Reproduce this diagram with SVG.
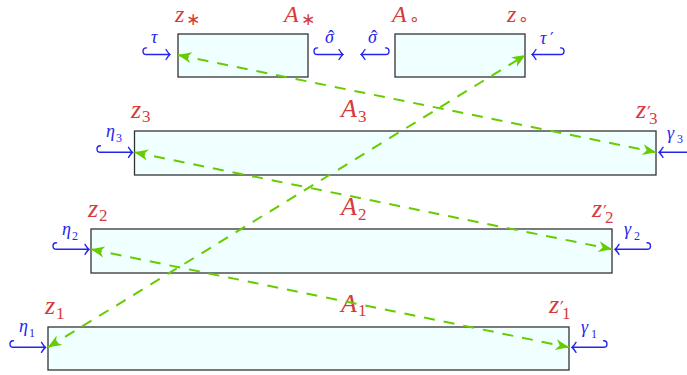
<svg xmlns="http://www.w3.org/2000/svg" width="687" height="375" viewBox="0 0 687 375">
<defs>
<style>
.box{fill:#f0ffff;stroke:#333;stroke-width:1.3}
.rl{fill:#d63a3a;font-family:"Liberation Serif","DejaVu Serif",serif;font-style:italic;font-size:26px}
.top{font-size:24px}
.rs{font-style:normal;font-size:17px}
.bl{fill:#2424f0;font-family:"Liberation Serif","DejaVu Serif",serif;font-style:italic;font-size:18px}
.bs{font-style:normal;font-size:12px}
.sym{font-family:"DejaVu Sans",sans-serif;font-style:normal}
.hk{fill:none;stroke:#2424f0;stroke-width:1.4;stroke-linecap:round}
.cn{fill:none;stroke:#66cc00;stroke-width:2;stroke-dasharray:11 9}
</style>
<marker id="ah" viewBox="-14 -7 15 14" refX="0" refY="0" markerWidth="15" markerHeight="14" markerUnits="userSpaceOnUse" orient="auto-start-reverse">
<path d="M0,0 L-13.5,-5.5 L-9.5,0 L-13.5,5.5 Z" fill="#66cc00"/>
</marker>
</defs>

<g id="node-Astar">
<rect class="box" x="178" y="34" width="130" height="43"/>
<text class="rl top" x="175" y="21.5">z<tspan class="rs sym" x="186" y="25">∗</tspan></text>
<text class="rl top" x="284" y="21.5">A<tspan class="rs sym" x="301" y="25">∗</tspan></text>
<path class="hk" d="M146.5,47.9 H146.3 A3.3,3.3 0 0 0 146.3,54.5 H170 M166,49.5 Q168.5,53.5 170,54.5 Q168.5,55.5 166,59.5"/>
<text class="bl" x="151" y="42.7">τ</text>
<path class="hk" d="M317.5,47.9 H317.3 A3.3,3.3 0 0 0 317.3,54.5 H343 M339,49.5 Q341.5,53.5 343,54.5 Q341.5,55.5 339,59.5"/>
<text class="bl" x="325" y="42.5">σ<tspan style="font-style:normal" x="328" y="43">ˆ</tspan></text>
</g>

<g id="node-Acirc">
<rect class="box" x="395" y="34" width="130" height="43"/>
<text class="rl top" x="392" y="21.5">A<tspan class="rs sym" x="409" y="25">∘</tspan></text>
<text class="rl top" x="507" y="21.5">z<tspan class="rs sym" x="518" y="25">∘</tspan></text>
<path class="hk" d="M385.5,47.9 H385.7 A3.3,3.3 0 0 1 385.7,54.5 H361 M365,49.5 Q362.5,53.5 361,54.5 Q362.5,55.5 365,59.5"/>
<text class="bl" x="368" y="42.5">σ<tspan style="font-style:normal" x="371" y="43">ˆ</tspan></text>
<path class="hk" d="M560.5,47.9 H560.7 A3.3,3.3 0 0 1 560.7,54.5 H532 M536,49.5 Q533.5,53.5 532,54.5 Q533.5,55.5 536,59.5"/>
<text class="bl" x="540" y="44">τ<tspan class="sym" font-size="16" x="550" y="44">′</tspan></text>
</g>

<g id="node-A3">
<rect class="box" x="134.5" y="131" width="521.5" height="44"/>
<text class="rl" x="131" y="117.5">z<tspan class="rs" x="142" y="122">3</tspan></text>
<text class="rl" x="341" y="117">A<tspan class="rs" x="358" y="122">3</tspan></text>
<text class="rl" x="636" y="117.5">z<tspan class="rs sym" font-size="19" x="647" y="119">′</tspan><tspan class="rs" x="649" y="124">3</tspan></text>
<path class="hk" d="M100.5,145.7 H100.3 A3.3,3.3 0 0 0 100.3,152.3 H132.5 M128.5,147.3 Q131,151.3 132.5,152.3 Q131,153.3 128.5,157.3"/>
<text class="bl" x="106" y="137">η<tspan class="bs" x="116" y="141.5">3</tspan></text>
<path class="hk" d="M691.5,145.7 H691.7 A3.3,3.3 0 0 1 691.7,152.3 H659 M663,147.3 Q660.5,151.3 659,152.3 Q660.5,153.3 663,157.3"/>
<text class="bl" x="667" y="138.5">γ<tspan class="bs" x="677" y="143">3</tspan></text>
</g>

<g id="node-A2">
<rect class="box" x="91" y="229" width="521" height="44"/>
<text class="rl" x="88" y="216.5">z<tspan class="rs" x="99" y="221">2</tspan></text>
<text class="rl" x="341" y="215">A<tspan class="rs" x="358" y="220">2</tspan></text>
<text class="rl" x="592" y="216.5">z<tspan class="rs sym" font-size="19" x="603" y="218">′</tspan><tspan class="rs" x="605" y="223">2</tspan></text>
<path class="hk" d="M56.5,242.7 H56.3 A3.3,3.3 0 0 0 56.3,249.3 H89 M85,244.3 Q87.5,248.3 89,249.3 Q87.5,250.3 85,254.3"/>
<text class="bl" x="62" y="235">η<tspan class="bs" x="72" y="239.5">2</tspan></text>
<path class="hk" d="M647,242.7 H647.2 A3.3,3.3 0 0 1 647.2,249.3 H615 M619,244.3 Q616.5,248.3 615,249.3 Q616.5,250.3 619,254.3"/>
<text class="bl" x="624" y="235">γ<tspan class="bs" x="634" y="239.5">2</tspan></text>
</g>

<g id="node-A1">
<rect class="box" x="48" y="327" width="521" height="43"/>
<text class="rl" x="45" y="314">z<tspan class="rs" x="56" y="318.5">1</tspan></text>
<text class="rl" x="341" y="311.5">A<tspan class="rs" x="358" y="316">1</tspan></text>
<text class="rl" x="549" y="312.5">z<tspan class="rs sym" font-size="19" x="560" y="314">′</tspan><tspan class="rs" x="562" y="319">1</tspan></text>
<path class="hk" d="M13.5,340.7 H13.3 A3.3,3.3 0 0 0 13.3,347.3 H45.5 M41.5,342.3 Q44,346.3 45.5,347.3 Q44,348.3 41.5,352.3"/>
<text class="bl" x="19" y="332">η<tspan class="bs" x="29" y="336.5">1</tspan></text>
<path class="hk" d="M603.5,340.7 H603.7 A3.3,3.3 0 0 1 603.7,347.3 H572 M576,342.3 Q573.5,346.3 572,347.3 Q573.5,348.3 576,352.3"/>
<text class="bl" x="581" y="333">γ<tspan class="bs" x="591" y="337.5">1</tspan></text>
</g>

<g id="connectors">
<line class="cn" x1="178" y1="55" x2="656" y2="152.3" marker-start="url(#ah)" marker-end="url(#ah)"/>
<line class="cn" x1="134.5" y1="152.3" x2="612" y2="249.3" marker-start="url(#ah)" marker-end="url(#ah)"/>
<line class="cn" x1="91" y1="249.3" x2="569" y2="347.3" marker-start="url(#ah)" marker-end="url(#ah)"/>
<line class="cn" x1="48" y1="347.3" x2="525.5" y2="55" marker-start="url(#ah)" marker-end="url(#ah)"/>
</g>
</svg>
